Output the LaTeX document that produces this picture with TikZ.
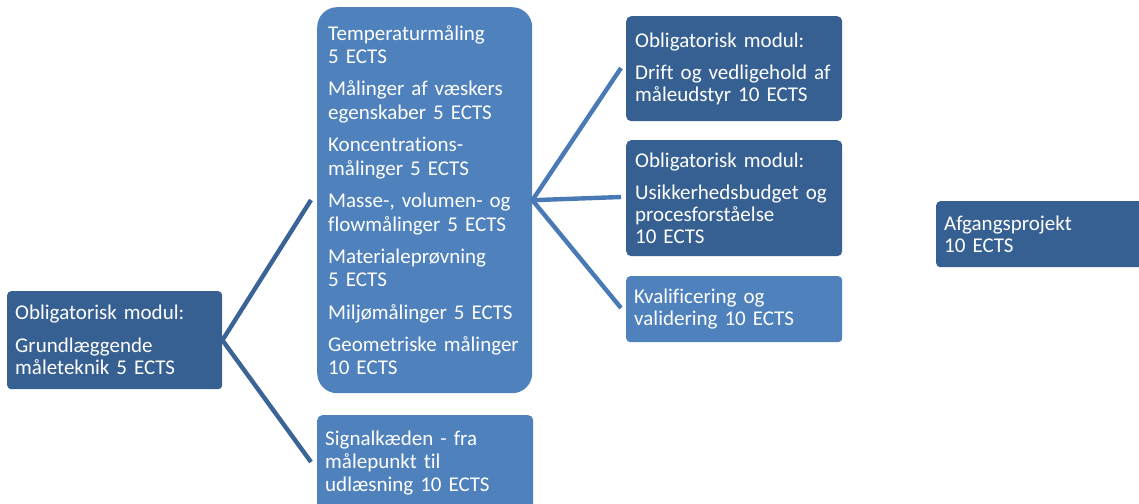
\documentclass[tikz,border=0pt]{standalone}
\usepackage{fontspec}
\setmainfont[Ligatures={NoCommon}]{Carlito}
\definecolor{dk}{HTML}{376092}
\definecolor{lt}{HTML}{4F81BD}
\definecolor{lnL}{HTML}{3A6496}
\definecolor{lnR}{HTML}{4A7AB5}
\tikzset{
  boxbase/.style={anchor=north west, align=left, text=white, inner xsep=8pt, inner ysep=0pt,
    font=\fontsize{21}{22}\selectfont},
  dbox/.style={boxbase, fill=dk, rounded corners=4pt},
  lbox/.style={boxbase, fill=lt, rounded corners=5pt},
  connL/.style={draw=lnL, line width=4.4pt},
  connR/.style={draw=lnR, line width=4.4pt},
}
\begin{document}
\begin{tikzpicture}[x=1pt,y=-1pt]
\useasboundingbox (0,0) rectangle (1139,503);
% left box
\node[dbox, minimum width=215pt, minimum height=98pt, text width=199pt] (grund) at (7,291)
  {Obligatorisk modul:\\[11pt]Grundlæggende\\måleteknik 5 ECTS};
% middle big box
\node[lbox, rounded corners=20pt, inner xsep=11pt, minimum width=215pt, minimum height=386pt, text width=193pt,
  font=\fontsize{21}{23.6}\selectfont] (valg) at (317,7)
  {Temperaturmåling\\5 ECTS\\[8.6pt]
   Målinger af væskers\\egenskaber 5 ECTS\\[8.6pt]
   Koncentrations-\\målinger 5 ECTS\\[8.6pt]
   Masse-, volumen- og\\flowmålinger 5 ECTS\\[8.6pt]
   Materialeprøvning\\5 ECTS\\[8.6pt]
   Miljømålinger 5 ECTS\\[8.6pt]
   Geometriske målinger\\10 ECTS};
% bottom middle box
\node[lbox, minimum width=216pt, minimum height=96pt, text width=200pt, font=\fontsize{21}{23}\selectfont] (signal) at (317,415)
  {Signalkæden - fra\\målepunkt til\\udlæsning 10 ECTS};
% right boxes
\node[dbox, rounded corners=5pt, inner xsep=9pt, minimum width=216pt, minimum height=105pt, text width=198pt] (drift) at (626,16)
  {Obligatorisk modul:\\[10pt]Drift og vedligehold af\\måleudstyr 10 ECTS};
\node[dbox, rounded corners=5pt, inner xsep=9pt, minimum width=216pt, minimum height=116pt, text width=198pt] (usik) at (626,140)
  {Obligatorisk modul:\\[10pt]Usikkerhedsbudget og\\procesforståelse\\10 ECTS};
\node[lbox, rounded corners=4pt, inner xsep=8pt, minimum width=216pt, minimum height=66pt, text width=200pt] (kval) at (626,276)
  {Kvalificering og\\validering 10 ECTS};
% far right box
\node[dbox, minimum width=230pt, minimum height=66pt, text width=214pt] (afg) at (936,201)
  {Afgangsprojekt\\10 ECTS};
% connector ends
\coordinate (e1) at (311,200);
\coordinate (e2) at (311,462);
\coordinate (f1) at (621,68);
\coordinate (f2) at (621,197);
\coordinate (f3) at (621,308);
\draw[connL] (e1) -- (grund.east) -- (e2);
\draw[connR] (f1) -- (valg.east) -- (f3);
\draw[connR] (valg.east) -- (f2);
\end{tikzpicture}
\end{document}
